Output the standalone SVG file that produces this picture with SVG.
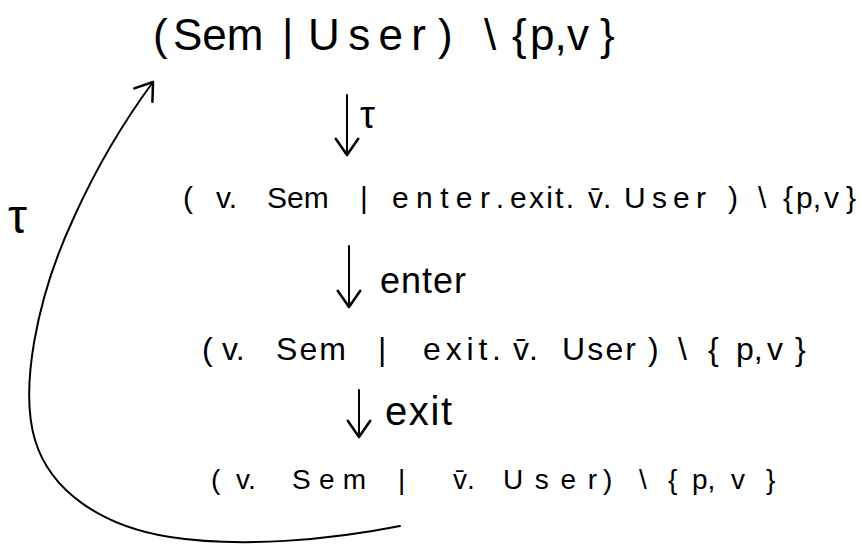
<svg xmlns="http://www.w3.org/2000/svg" width="862" height="544" viewBox="0 0 862 544">
<style>
  text { font-family: "Liberation Sans", "DejaVu Sans", sans-serif; fill: #000; }
  .l1 { font-size: 44px; }
  .l2 { font-size: 30px; }
  .l3 { font-size: 32px; }
  .l4 { font-size: 28px; }
  .lab { font-size: 36px; }
  .edge { fill: none; stroke: #000; stroke-width: 2; stroke-linecap: round; marker-end: url(#head); }
</style>
<defs>
  <marker id="head" markerUnits="userSpaceOnUse" markerWidth="30" markerHeight="30" refX="0" refY="0" viewBox="-16 -12 20 24" orient="auto" overflow="visible">
    <path d="M-13,-9 L0,0 L-13,9" fill="none" stroke="#000" stroke-width="2" stroke-linecap="round" stroke-linejoin="round"/>
  </marker>
</defs>
<rect width="862" height="544" fill="#fff"/>

<g id="s0">
  <text class="l1" y="50"><tspan x="153">(</tspan><tspan x="173">Sem</tspan><tspan x="282">|</tspan><tspan x="308" textLength="118" lengthAdjust="spacing">User</tspan><tspan x="438">)</tspan><tspan x="484">\</tspan><tspan x="512">{</tspan><tspan x="530">p,</tspan><tspan x="567">v</tspan><tspan x="600">}</tspan></text>
</g>

<g id="s1">
  <text class="l2" y="208"><tspan x="183">(</tspan><tspan x="216">v.</tspan><tspan x="267">Sem</tspan><tspan x="360">|</tspan><tspan x="392" textLength="112" lengthAdjust="spacing">enter.</tspan><tspan x="510" textLength="64" lengthAdjust="spacing">exit.</tspan><tspan x="588">v&#x304;.</tspan><tspan x="624" textLength="82" lengthAdjust="spacing">User</tspan><tspan x="728">)</tspan><tspan x="758">\</tspan><tspan x="783">{</tspan><tspan x="796">p,</tspan><tspan x="824">v</tspan><tspan x="846">}</tspan></text>
</g>

<g id="s2">
  <text class="l3" y="360"><tspan x="202">(</tspan><tspan x="222">v.</tspan><tspan x="276" textLength="70" lengthAdjust="spacing">Sem</tspan><tspan x="378">|</tspan><tspan x="423" textLength="78" lengthAdjust="spacing">exit.</tspan><tspan x="513">v&#x304;.</tspan><tspan x="562" textLength="74" lengthAdjust="spacing">User</tspan><tspan x="648">)</tspan><tspan x="678">\</tspan><tspan x="708">{</tspan><tspan x="736">p,</tspan><tspan x="767">v</tspan><tspan x="795">}</tspan></text>
</g>

<g id="s3">
  <text class="l4" y="489"><tspan x="211">(</tspan><tspan x="236">v.</tspan><tspan x="292" textLength="74" lengthAdjust="spacing">Sem</tspan><tspan x="398">|</tspan><tspan x="453">v&#x304;.</tspan><tspan x="503" textLength="94" lengthAdjust="spacing">User</tspan><tspan x="603">)</tspan><tspan x="639">\</tspan><tspan x="668">{</tspan><tspan x="692">p,</tspan><tspan x="731">v</tspan><tspan x="766">}</tspan></text>
</g>

<g id="connectors">
  <line class="edge" x1="347" y1="95" x2="347" y2="155"/>
  <text class="lab" x="360" y="128" style="font-size:38px">τ</text>
  <line class="edge" x1="349" y1="246" x2="349" y2="307"/>
  <text class="lab" x="380" y="293" textLength="86" lengthAdjust="spacing">enter</text>
  <line class="edge" x1="359" y1="390" x2="359" y2="437"/>
  <text class="lab" x="385" y="425" style="font-size:40px" textLength="67" lengthAdjust="spacing">exit</text>
  <path class="edge" d="M400,526 C330,540 240,548 170,537 C100,526 50,490 35,440 C20,390 35,300 75,215 C100,160 125,120 153,82"/>
  <text class="lab" x="8" y="233" style="font-size:48px">τ</text>
</g>
</svg>
